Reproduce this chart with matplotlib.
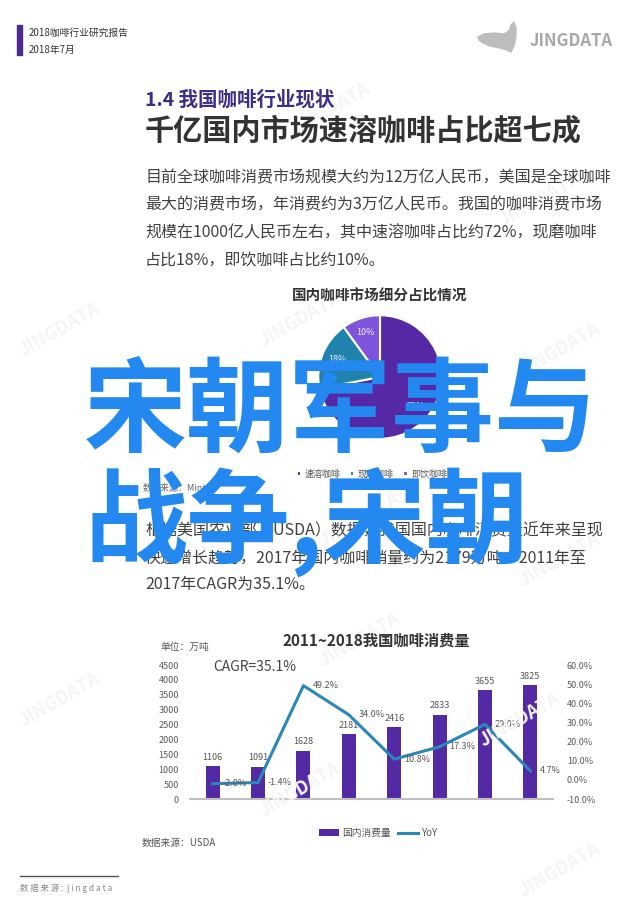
import matplotlib
matplotlib.use('Agg')
import matplotlib.pyplot as plt
from matplotlib.patches import Rectangle, Polygon
from matplotlib.lines import Line2D
import numpy as np

plt.rcParams['font.family'] = ['Noto Sans CJK SC', 'DejaVu Sans']

# ---------------- data ----------------
pie_labels = ['速溶咖啡', '现磨咖啡', '即饮咖啡']
pie_shares = [72, 18, 10]
pie_colors = ['#5529a6', '#2183ad', '#7d55dc']

years = ['2011', '2012', '2013', '2014', '2015', '2016', '2017', '2018']
consumption = [1106, 1091, 1628, 2181, 2416, 2833, 3655, 3825]
yoy = [-2.0, -1.4, 49.2, 34.0, 10.8, 17.3, 29.0, 4.7]
left_ticks = [0, 500, 1000, 1500, 2000, 2500, 3000, 3500, 4000, 4500]
right_ticks = [-10, 0, 10, 20, 30, 40, 50, 60]

para1 = ["目前全球咖啡消费市场规模大约为12万亿人民币，美国是全球咖啡",
         "最大的消费市场，年消费约为3万亿人民币。我国的咖啡消费市场",
         "规模在1000亿人民币左右，其中速溶咖啡占比约72%，现磨咖啡",
         "占比18%，即饮咖啡占比约10%。"]
para2 = ["根据美国农业部（USDA）数据，我国国内咖啡消费量近年来呈现",
         "快速增长趋势，2017年国内咖啡销量约为2179万吨，2011年至",
         "2017年CAGR为35.1%。"]

W, H = 640, 905
fig = plt.figure(figsize=(W / 100, H / 100), dpi=100)
fig.patch.set_facecolor('white')


def fx(x):
    return x / W


def fy(y):
    return 1 - y / H


def T(x, y, s, **kw):
    kw.setdefault('va', 'center')
    return fig.text(fx(x), fy(y), s, **kw)


# faint watermarks
for (wx, wy) in [(330, 110), (540, 200), (300, 320), (560, 350), (360, 520),
                 (560, 560), (360, 640), (520, 720), (300, 790), (560, 870),
                 (60, 330), (60, 700)]:
    T(wx, wy, 'JINGDATA', fontsize=13, weight='bold', color='#f5f5f5',
      rotation=30, ha='center', zorder=0)

# ---------------- header ----------------
fig.add_artist(Rectangle((fx(17), fy(55)), 5 / W, 30 / H,
                         transform=fig.transFigure, color='#4b2b8f'))
T(29, 33, '2018咖啡行业研究报告', fontsize=7, color='#333333')
T(29, 50, '2018年7月', fontsize=7, color='#333333')

whale = [(478, 37), (484, 34), (494, 33), (504, 34), (509, 31), (511, 25),
         (514, 22), (516, 28), (516, 37), (514, 46), (511, 52), (507, 50),
         (500, 48), (490, 46), (483, 43), (479, 40)]
fig.add_artist(Polygon([(fx(a), fy(b)) for a, b in whale], closed=True,
                       transform=fig.transFigure, color='#bdbdbd'))
T(530, 41, 'JINGDATA', fontsize=12, weight='bold', color='#a8a8a8')

# ---------------- titles and paragraphs ----------------
T(145, 100, '1.4 我国咖啡行业现状', fontsize=14, weight='bold', color='#3c2d87')
T(145, 130, '千亿国内市场速溶咖啡占比超七成', fontsize=21, weight='bold', color='#333333')
for i, line in enumerate(para1):
    T(145, 178 + i * 27.3, line, fontsize=11.5, color='#404040')

T(380, 296, '国内咖啡市场细分占比情况', fontsize=10.5, weight='bold', color='#333333', ha='center')

# ---------------- pie ----------------
ax_pie = fig.add_axes([fx(317), fy(440), 126 / W, 126 / H])
wedges, _, autotexts = ax_pie.pie(
    pie_shares, colors=pie_colors, startangle=90, counterclock=False,
    autopct=lambda p: f'{p:.0f}%', pctdistance=0.75,
    wedgeprops=dict(edgecolor='white', linewidth=1.5),
    textprops=dict(color='#eeeef8', fontsize=6.5))
ax_pie.set_xlim(-1.02, 1.02)
ax_pie.set_ylim(-1.02, 1.02)
ax_pie.set_aspect('equal')
ax_pie.axis('off')
ax_pie.legend(wedges, pie_labels, loc='center', ncol=3,
              bbox_to_anchor=(fx(372), fy(474)), bbox_transform=fig.transFigure,
              frameon=False, fontsize=6.5, handlelength=0.5, handleheight=0.5,
              handletextpad=0.4, columnspacing=1.0, labelcolor='#555555')

T(143, 488, '数据来源：Mintel', fontsize=6.5, color='#666666')

for i, line in enumerate(para2):
    T(145, 531 + i * 26.5, line, fontsize=11.5, color='#404040')

# ---------------- bar + line chart ----------------
T(376, 641, '2011~2018我国咖啡消费量', fontsize=11, weight='bold', color='#333333', ha='center')
T(160, 647, '单位：万吨', fontsize=7, color='#555555')
T(213, 667, 'CAGR=35.1%', fontsize=10, color='#444444')

ax = fig.add_axes([fx(190), fy(799), (553 - 190) / W, (799 - 665) / H])
x = np.arange(len(years))
bars = ax.bar(x, consumption, width=0.31, color='#5429a4', zorder=2)
ax.bar_label(bars, labels=[str(v) for v in consumption], padding=3,
             fontsize=6.5, color='#555555')
ax.set_xlim(-0.5, len(years) - 0.5)
ax.set_ylim(0, 4500)
ax.set_yticks(left_ticks)
ax.set_xticks([])
ax.tick_params(axis='y', length=0, pad=8, labelsize=6.5, labelcolor='#595959')
for s in ['top', 'right', 'left']:
    ax.spines[s].set_visible(False)
ax.spines['bottom'].set_color('#bfbfbf')
ax.spines['bottom'].set_linewidth(1.5)
ax.set_facecolor('none')

ax2 = ax.twinx()
line, = ax2.plot(x, yoy, color='#2a87b8', linewidth=2.2, zorder=3)
for xi, v in zip(x, yoy):
    ax2.annotate(f'{v:.1f}%', (xi, v), xytext=(7, 0), textcoords='offset points',
                 ha='left', va='center', fontsize=6.5, color='#555555')
ax2.set_ylim(-10, 60)
ax2.set_yticks(right_ticks)
ax2.set_yticklabels([f'{v:.1f}%' for v in right_ticks])
ax2.tick_params(axis='y', length=0, pad=10, labelsize=6.5, labelcolor='#595959')
for s in ax2.spines.values():
    s.set_visible(False)

ax2.legend([bars, line], ['国内消费量', 'YoY'], loc='center', ncol=2,
           bbox_to_anchor=(fx(378), fy(833)), bbox_transform=fig.transFigure,
           frameon=False, fontsize=7, handlelength=2.0, handleheight=0.6,
           handletextpad=0.3, columnspacing=0.8, labelcolor='#555555')

T(142, 843, '数据来源：USDA', fontsize=7, color='#555555')

# ---------------- footer ----------------
fig.add_artist(Line2D([fx(20), fx(118)], [fy(876), fy(876)],
                      transform=fig.transFigure, color='#555555', linewidth=1))
T(20, 888, '数 据 来 源 :  j i n g d a t a', fontsize=6, color='#888888')

# ---------------- overlay ----------------
T(84, 413, '宋朝军事与', fontsize=74, weight='bold', color='#2389f0', zorder=10)
T(84, 522, '战争,宋朝', fontsize=74, weight='bold', color='#2389f0', zorder=10)

fig.savefig('out.png', dpi=100, facecolor='white')
